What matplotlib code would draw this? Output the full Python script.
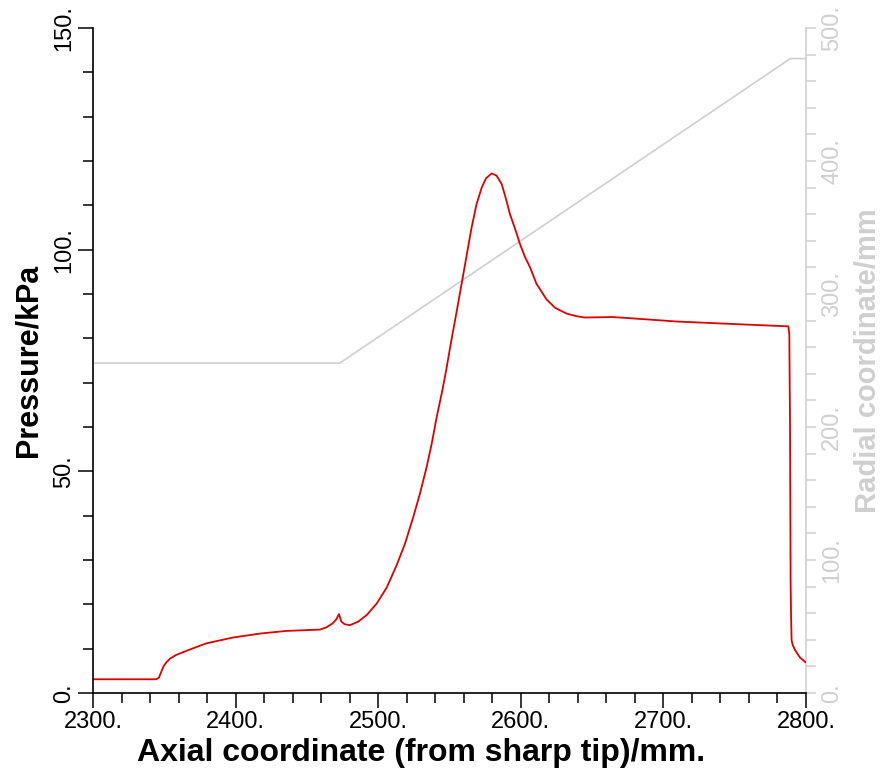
import matplotlib.pyplot as plt
from matplotlib.ticker import MultipleLocator, FuncFormatter

# ── 数据 ──────────────────────────────────────────
# 压力分布 (kPa) vs 轴向坐标 (mm)
x_p = [2300, 2344.4, 2346.3, 2347.9, 2349.6, 2351.4, 2354.2, 2358.4, 2367.8,
       2379.5, 2398, 2417, 2435.5, 2459, 2463.6, 2468, 2470.6, 2472.5, 2474.2,
       2476.5, 2480.2, 2486, 2492, 2499, 2506, 2512.9, 2518.8, 2524.6, 2529.3,
       2534, 2537.5, 2541, 2544.5, 2547.5, 2551, 2555, 2558.5, 2565.5,
       2569, 2572.6, 2575.6, 2579.6, 2583, 2586.6, 2590, 2592.4, 2596, 2599.4,
       2603, 2606.5, 2611, 2618, 2624, 2632, 2639, 2645, 2655.6,
       2664, 2674, 2709, 2744, 2787.6, 2788.3, 2788.8, 2789.2, 2789.5, 2789.9,
       2790.7, 2792.3, 2795.8, 2799.3, 2800]
p_kpa = [3.1, 3.1, 3.5, 4.8, 6.1, 6.9, 7.8, 8.6, 9.8,
         11.2, 12.5, 13.4, 14.0, 14.3, 14.8, 15.7, 16.6, 17.8, 16.1,
         15.5, 15.3, 16.1, 17.6, 20.2, 23.8, 28.8, 33.7, 39.7, 45.0,
         51.0, 56.2, 62.2, 67.5, 72.5, 79.0, 86.0, 92.3, 105.0,
         110.3, 114.0, 116.1, 117.2, 116.7, 114.8, 111.0, 108.0, 104.7, 101.3,
         98.3, 96.0, 92.3, 88.8, 86.9, 85.6, 85.0, 84.7, 84.75,
         84.8, 84.6, 83.8, 83.3, 82.7, 81.0, 60.0, 25.5, 17.9, 11.9,
         10.8, 9.7, 8.0, 7.05, 6.9]

# 物面型线 半径 (mm)
x_r = [2300, 2473, 2789, 2800]
r_mm = [248, 248, 477, 477]

RED  = '#dd0000'
GREY = '#cfcfcf'

plt.rcParams['font.family'] = ['Liberation Sans Narrow', 'Liberation Sans', 'DejaVu Sans']

fig = plt.figure(figsize=(8.87, 7.75), dpi=100)
ax = fig.add_axes([93/887, 1 - 693/775, (806 - 93)/887, (693 - 28)/775])
ax2 = ax.twinx()
ax.set_zorder(ax2.get_zorder() + 1)
ax.patch.set_visible(False)

ax.plot(x_p, p_kpa, color=RED, lw=1.3, solid_joinstyle='round')
ax2.plot(x_r, r_mm, color=GREY, lw=1.2)

ax.set_xlim(2300, 2800)
ax.set_ylim(0, 150)
ax2.set_ylim(0, 500)

dotfmt = FuncFormatter(lambda v, pos: f"{v:g}.")

ax.xaxis.set_major_locator(MultipleLocator(100))
ax.xaxis.set_minor_locator(MultipleLocator(20))
ax.yaxis.set_major_locator(MultipleLocator(50))
ax.yaxis.set_minor_locator(MultipleLocator(10))
ax2.yaxis.set_major_locator(MultipleLocator(100))
ax2.yaxis.set_minor_locator(MultipleLocator(20))
ax.xaxis.set_major_formatter(dotfmt)
ax.yaxis.set_major_formatter(dotfmt)
ax2.yaxis.set_major_formatter(dotfmt)

for a in (ax, ax2):
    a.spines['top'].set_visible(False)
ax.spines['right'].set_visible(False)
ax2.spines['left'].set_visible(False)
ax2.spines['bottom'].set_visible(False)
ax2.spines['right'].set_color(GREY)
ax2.spines['right'].set_linewidth(1.2)
ax.spines['left'].set_linewidth(1.2)
ax.spines['bottom'].set_linewidth(1.2)

ax.tick_params(axis='both', which='major', direction='out', length=11, width=1.1,
               labelsize=17, pad=2)
ax.tick_params(axis='both', which='minor', direction='out', length=7, width=1.1)
ax.tick_params(axis='y', which='major', labelrotation=90)
ax2.tick_params(axis='y', which='major', direction='out', length=7, width=1.1,
                colors=GREY, labelsize=17, pad=4, labelrotation=90)
ax2.tick_params(axis='y', which='minor', direction='out', length=7, width=1.1,
                colors=GREY)
for lab in ax.get_yticklabels() + ax2.get_yticklabels():
    lab.set_va('center')

ax.set_xlabel("Axial coordinate (from sharp tip)/mm.", fontsize=23,
              fontweight='bold')
ax.xaxis.set_label_coords(0.46, -0.068)
ax.set_ylabel("Pressure/kPa", fontsize=22, fontweight='bold', labelpad=7)
ax2.set_ylabel("Radial coordinate/mm", fontsize=21, fontweight='bold',
               color=GREY, labelpad=8)

plt.savefig("out.png", dpi=100)
